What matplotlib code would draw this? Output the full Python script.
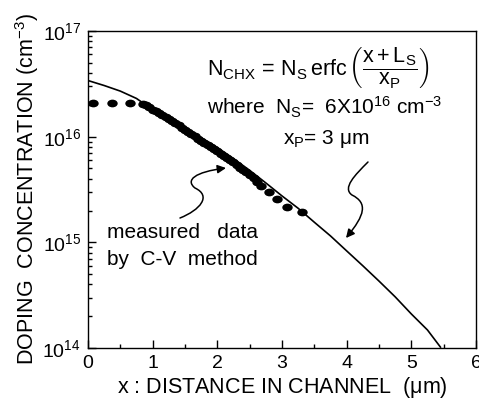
import matplotlib
matplotlib.use("Agg")
import matplotlib.pyplot as plt
from matplotlib.patches import FancyArrowPatch
from matplotlib.path import Path
from matplotlib.transforms import Affine2D
from matplotlib.ticker import LogLocator, MultipleLocator, NullFormatter

plt.rcParams["font.family"] = ["Liberation Sans", "DejaVu Sans"]
plt.rcParams["mathtext.fontset"] = "custom"
plt.rcParams["mathtext.rm"] = "Liberation Sans"
plt.rcParams["mathtext.it"] = "Liberation Sans"
plt.rcParams["mathtext.bf"] = "Liberation Sans:bold"

# erfc fit curve
curve_x = [0.0, 0.25, 0.5, 0.75, 1.0, 1.25, 1.5, 1.75, 2.0, 2.25, 2.5, 2.75,
           3.0, 3.25, 3.5, 3.75, 4.0, 4.25, 4.5, 4.75, 5.0, 5.25, 5.45]
curve_y = [3.4e16, 3.05e16, 2.7e16, 2.3e16, 1.8e16, 1.47e16, 1.2e16, 9.8e15,
           7.9e15, 6.2e15, 4.8e15, 3.65e15, 2.75e15, 2.1e15, 1.55e15, 1.15e15,
           8.3e14, 6.0e14, 4.3e14, 3.05e14, 2.1e14, 1.48e14, 1.02e14]

# measured data by C-V method
meas_x = [0.08, 0.37, 0.65, 0.85, 0.90, 0.95, 1.00, 1.05, 1.10, 1.15, 1.20,
          1.25, 1.30, 1.35, 1.40, 1.45, 1.50, 1.55, 1.60, 1.65, 1.70, 1.75,
          1.80, 1.85, 1.90, 1.95, 2.00, 2.05, 2.10, 2.15, 2.20, 2.25, 2.30,
          2.35, 2.40, 2.45, 2.50, 2.56, 2.62, 2.68, 2.80, 2.93, 3.07, 3.31]
meas_y = [2.1e16, 2.1e16, 2.1e16, 2.05e16, 2.0e16, 1.9e16, 1.8e16,
          1.74e16, 1.67e16, 1.6e16, 1.53e16, 1.47e16, 1.4e16, 1.34e16,
          1.28e16, 1.22e16, 1.16e16, 1.11e16, 1.06e16, 1.01e16, 9.6e15,
          9.2e15, 8.8e15, 8.4e15, 8.0e15, 7.6e15, 7.3e15, 6.9e15, 6.6e15,
          6.3e15, 6.0e15, 5.7e15, 5.4e15, 5.1e15, 4.85e15, 4.6e15, 4.35e15,
          4.05e15, 3.75e15, 3.45e15, 3.0e15, 2.57e15, 2.16e15, 1.95e15]

fig = plt.figure(figsize=(4.79, 4.03), dpi=100)
ax = fig.add_axes([0.1837, 0.1365, 0.81, 0.7865])

# slightly flattened dots, like the scanned markers
dot = Path.unit_circle().transformed(Affine2D().scale(1.35, 1.0))

ax.plot(curve_x, curve_y, color="black", lw=1.2)
ax.plot(meas_x, meas_y, linestyle="none", marker=dot, color="black",
        ms=7.5, mew=0)

ax.set_yscale("log")
ax.set_xlim(0, 6)
ax.set_ylim(1e14, 1e17)

ax.xaxis.set_major_locator(MultipleLocator(1))
ax.xaxis.set_minor_locator(MultipleLocator(0.5))
ax.yaxis.set_minor_locator(LogLocator(base=10, subs=range(2, 10), numticks=10))
ax.yaxis.set_minor_formatter(NullFormatter())
ax.tick_params(which="both", direction="in", top=False, right=False,
               labelsize=14, width=1.0)
ax.tick_params(which="major", length=6, pad=5)
ax.tick_params(which="minor", length=3)
ax.set_yticks([1e14, 1e15, 1e16, 1e17])
ax.set_yticklabels([r"$10^{14}$", r"$10^{15}$", r"$10^{16}$", r"$10^{17}$"])
for s in ax.spines.values():
    s.set_linewidth(1.0)

ax.set_xlabel(r"x : DISTANCE IN CHANNEL  ($\mu$m)", fontsize=15.5, labelpad=2)
ax.set_ylabel(r"DOPING  CONCENTRATION (cm$^{-3}$)", fontsize=15.5, labelpad=1)

# formula text
ax.text(0.308, 0.885,
        r"$\mathrm{N_{CHX}\,=\,N_S\,erfc}\,\left(\dfrac{\mathrm{x+L_S}}{\mathrm{x_P}}\right)$",
        transform=ax.transAxes, fontsize=15.5, va="center", ha="left")
ax.text(0.308, 0.76, r"where  N$_\mathrm{S}$=  6X10$^{16}$ cm$^{-3}$",
        transform=ax.transAxes, fontsize=15, va="center", ha="left")
ax.text(0.503, 0.66, r"x$_\mathrm{P}$= 3 $\mu$m",
        transform=ax.transAxes, fontsize=15, va="center", ha="left")

ax.text(0.05, 0.365, "measured   data", transform=ax.transAxes,
        fontsize=15, va="center", ha="left")
ax.text(0.05, 0.28, "by  C-V  method", transform=ax.transAxes,
        fontsize=15, va="center", ha="left")


# squiggly arrows, drawn in axes fractions from pixel positions
def fr(px, py):
    return ((px - 88) / 388.0, (348 - py) / 317.0)


codes = [Path.MOVETO, Path.CURVE4, Path.CURVE4, Path.CURVE4,
         Path.CURVE4, Path.CURVE4, Path.CURVE4]
verts1 = [fr(180, 218), fr(200, 210), fr(212, 196), fr(195, 188),
          fr(185, 180), fr(195, 172), fr(226, 168)]
verts2 = [fr(368, 162), fr(355, 175), fr(342, 188), fr(352, 195),
          fr(368, 203), fr(365, 215), fr(346, 238)]
for verts in (verts1, verts2):
    arr = FancyArrowPatch(path=Path(verts, codes), transform=ax.transAxes,
                          arrowstyle="-|>,head_length=5,head_width=2.5",
                          color="black", lw=1.1)
    ax.add_patch(arr)

fig.savefig("out.png", dpi=100)
